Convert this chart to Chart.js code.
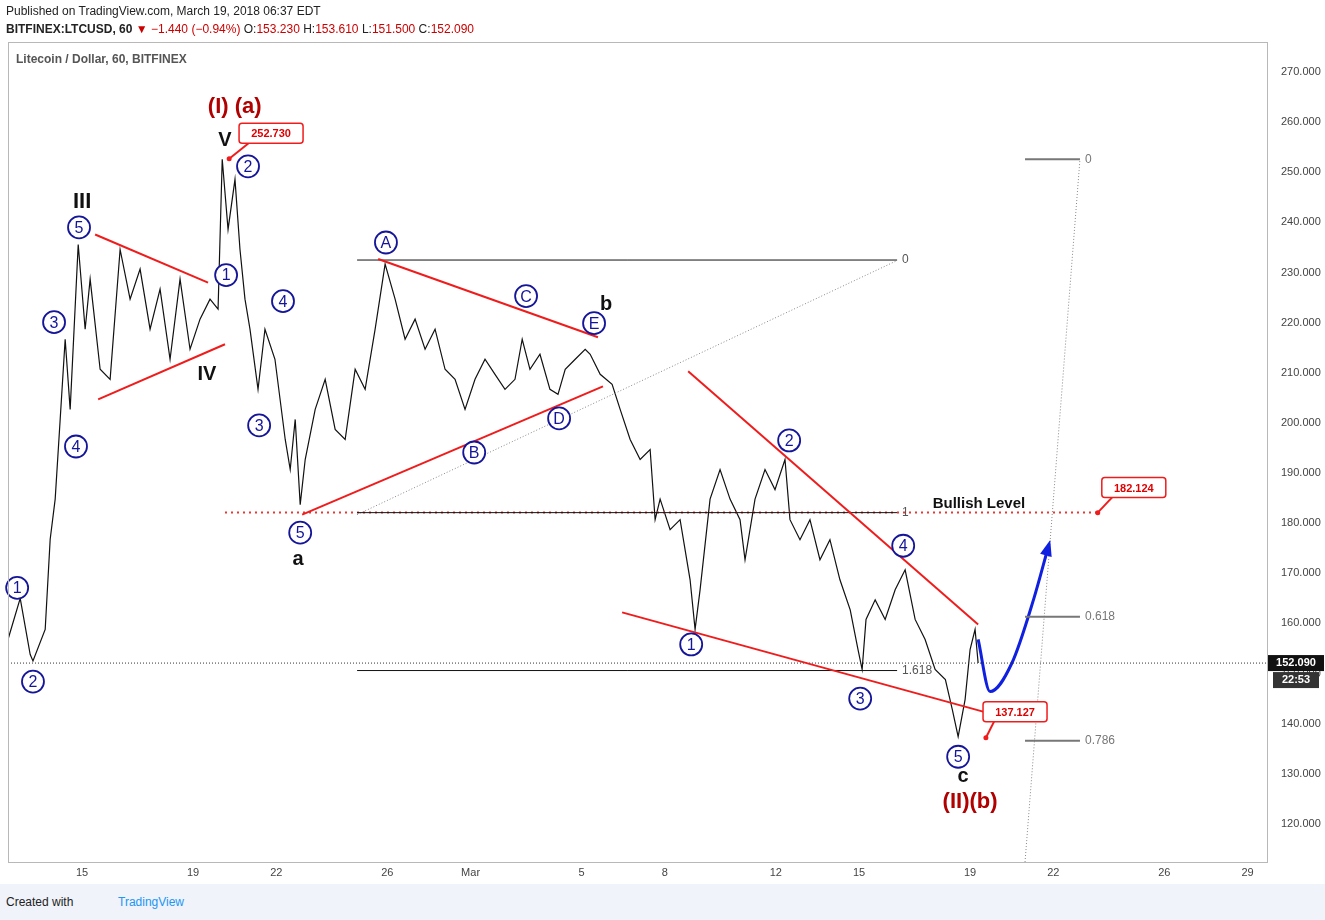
<!DOCTYPE html>
<html>
<head>
<meta charset="utf-8">
<script src="https://cdn.jsdelivr.net/npm/chart.js@4.4.1/dist/chart.umd.min.js"></script>
<style>
  body { margin: 0; background: #fff; font-family: Arial, "Liberation Sans", sans-serif; }
  #wrap { position: relative; width: 1325px; height: 920px; }
  #c { position: absolute; left: 0; top: 0; }
  .hdr { position: absolute; left: 6px; font-size: 12px; color: #222; }
  #foot { position: absolute; left: 0; top: 884px; width: 1325px; height: 36px; background: #f0f3fa; font-size: 12px; }
</style>
</head>
<body>
<div id="wrap">
  <canvas id="c" width="1325" height="920"></canvas>
  <div class="hdr" style="top:4px">Published on TradingView.com, March 19, 2018 06:37 EDT</div>
  <div class="hdr" style="top:22px"><b>BITFINEX:LTCUSD, 60</b> <span style="color:#c00">▼ −1.440 (−0.94%)</span> O:<span style="color:#c00">153.230</span> H:<span style="color:#c00">153.610</span> L:<span style="color:#c00">151.500</span> C:<span style="color:#c00">152.090</span></div>
  <div id="foot"><span style="position:absolute;left:6px;top:11px;color:#222">Created with</span><span style="position:absolute;left:118px;top:11px;color:#2196f3">TradingView</span></div>
</div>
<script>
// price path (day of Feb 2018 / price)
const days = [12.33,12.77,13.13,13.23,13.67,13.85,14.03,14.21,14.39,14.57,14.86,15.11,15.29,15.65,16.01,16.37,16.73,17.09,17.45,17.81,18.17,18.53,18.89,19.25,19.61,19.90,20.05,20.26,20.51,20.69,20.87,21.05,21.34,21.59,21.95,22.32,22.50,22.68,22.86,23.04,23.40,23.76,24.12,24.48,24.84,25.20,25.56,25.92,26.28,26.64,27.00,27.36,27.72,28.08,28.44,28.80,29.16,29.52,29.88,30.24,30.60,30.86,31.14,31.50,31.86,32.15,32.41,32.77,33.13,33.31,33.67,34.10,34.39,34.75,35.11,35.47,35.65,35.83,36.19,36.55,36.91,37.09,37.27,37.63,37.99,38.35,38.71,38.89,39.25,39.61,39.97,40.33,40.51,40.87,41.23,41.59,41.95,42.31,42.68,42.96,43.11,43.25,43.58,43.94,44.30,44.66,45.02,45.38,45.74,46.11,46.36,46.57,46.82,47.00,47.18,47.29];
const prices = [156.8,165.0,153.8,152.5,158.8,176.8,184.8,200.7,216.7,202.7,235.6,218.7,228.7,210.7,208.7,234.6,224.7,230.7,218.7,226.7,212.7,228.7,214.7,220.7,224.7,222.7,252.6,238.6,248.6,234.6,224.7,218.7,206.7,218.7,212.7,196.7,190.7,200.7,183.7,192.7,202.7,208.7,198.7,196.7,210.7,206.7,218.7,231.7,224.7,216.7,220.7,214.7,218.7,210.7,208.7,202.7,208.7,212.7,209.7,206.7,208.7,216.7,210.7,213.7,206.7,205.7,210.7,212.7,214.7,213.7,209.7,207.7,202.7,196.7,192.7,194.7,180.7,184.8,178.7,180.7,168.7,158.8,166.7,184.8,190.7,184.8,180.7,172.7,184.8,190.7,186.7,192.7,180.7,176.7,180.7,172.7,176.7,168.7,162.7,154.8,150.8,160.8,164.7,160.8,166.7,170.7,160.8,156.8,150.8,148.8,142.8,137.4,144.8,154.8,158.8,152.09];

const projDays = [47.29,47.72,48.5,49.3,49.81];
const projPrices = [156.8,146.4,152.0,165.0,175.1];

const xTickVals = [15,19,22,26,29,33,36,40,43,47,50,54,57];
const xTickLabels = ['15','19','22','26','Mar','5','8','12','15','19','22','26','29'];
const yTicks = [120,130,140,150,160,170,180,190,200,210,220,230,240,250,260,270];

const lastPrice = 152.09;

// red trend lines [d1,p1,d2,p2]
const redLines = [
  [15.47,237.6,19.54,228.0],[15.58,204.7,20.15,215.7],
  [25.67,232.7,33.59,217.1],[22.93,181.7,33.77,207.3],
  [36.84,210.3,47.29,159.8],[34.46,162.2,47.47,142.4]
];
// wave counts [day, price, label]
const waveMarks = [
  [12.66,167.1,'1'],[13.23,148.4,'2'],[13.99,220.1,'3'],[14.78,195.3,'4'],[14.89,239.0,'5'],
  [20.19,229.5,'1'],[20.98,251.2,'2'],[21.38,199.5,'3'],[22.24,224.3,'4'],[22.86,178.1,'5'],
  [25.95,236.0,'A'],[29.13,194.1,'B'],[31.0,225.3,'C'],[32.19,200.9,'D'],[33.45,219.9,'E'],
  [36.95,155.8,'1'],[40.48,196.5,'2'],[43.04,145.0,'3'],[44.59,175.5,'4'],[46.57,133.4,'5']
];
// text labels [day, price, text, color, size]
const textMarks = [
  [15.0,244.0,'III','#111',22],[19.5,209.7,'IV','#111',20],[20.15,256.4,'V','#111',20],
  [20.5,263.0,'(I) (a)','#b00000',22],[22.78,172.7,'a','#111',20],[33.88,223.7,'b','#111',20],
  [46.75,129.4,'c','#111',20],[47.0,124.4,'(II)(b)','#b00000',22]
];
// red price callouts [day, price, text, pointDay, pointPrice]
const callouts = [
  [21.81,257.8,'252.730',20.3,252.7],[52.9,187.1,'182.124',51.6,182.1],[48.62,142.4,'137.127',47.57,137.2]
];
// fib lines [d1,d2,price,label]
const fibA = [[24.91,44.37,232.5,'0'],[24.91,44.37,182.1,'1'],[24.91,44.37,150.6,'1.618']];
const fibB = [[48.98,50.96,252.6,'0'],[48.98,50.96,161.35,'0.618'],[48.98,50.96,136.6,'0.786']];

const overlay = {
  id: 'overlay',
  afterDatasetsDraw(chart) {
    const ctx = chart.ctx, x = chart.scales.x, y = chart.scales.y, a = chart.chartArea;
    const X = d => x.getPixelForValue(d), Y = p => y.getPixelForValue(p);
    ctx.save();
    ctx.strokeStyle = '#333'; ctx.lineWidth = 1; ctx.setLineDash([1,2]);
    ctx.beginPath(); ctx.moveTo(a.left, Y(lastPrice)); ctx.lineTo(a.right, Y(lastPrice)); ctx.stroke();
    ctx.strokeStyle = '#e53935'; ctx.lineWidth = 2; ctx.setLineDash([2,4]);
    ctx.beginPath(); ctx.moveTo(X(20.15), Y(182.124)); ctx.lineTo(X(51.58), Y(182.124)); ctx.stroke();
    ctx.strokeStyle = '#888'; ctx.lineWidth = 1; ctx.setLineDash([1,2]);
    ctx.beginPath(); ctx.moveTo(X(24.91), Y(181.7)); ctx.lineTo(X(44.37), Y(232.4)); ctx.stroke();
    ctx.beginPath(); ctx.moveTo(X(48.98), Y(112.4)); ctx.lineTo(X(50.96), Y(252.6)); ctx.stroke();
    ctx.setLineDash([]);
    ctx.font = '12px Arial';
    fibA.forEach(f => {
      ctx.strokeStyle = '#111'; ctx.lineWidth = 1;
      ctx.beginPath(); ctx.moveTo(X(f[0]), Y(f[2])); ctx.lineTo(X(f[1]), Y(f[2])); ctx.stroke();
      ctx.fillStyle = '#555'; ctx.textAlign = 'left'; ctx.textBaseline = 'middle';
      ctx.fillText(f[3], X(f[1]) + 5, Y(f[2]));
    });
    fibB.forEach(f => {
      ctx.strokeStyle = '#777'; ctx.lineWidth = 2;
      ctx.beginPath(); ctx.moveTo(X(f[0]), Y(f[2])); ctx.lineTo(X(f[1]), Y(f[2])); ctx.stroke();
      ctx.fillStyle = '#777'; ctx.textAlign = 'left'; ctx.textBaseline = 'middle';
      ctx.fillText(f[3], X(f[1]) + 5, Y(f[2]));
    });
    ctx.strokeStyle = '#f01c1c'; ctx.lineWidth = 2;
    redLines.forEach(l => { ctx.beginPath(); ctx.moveTo(X(l[0]), Y(l[1])); ctx.lineTo(X(l[2]), Y(l[3])); ctx.stroke(); });
    const n = projDays.length;
    const x1 = X(projDays[n-2]), y1 = Y(projPrices[n-2]), x2 = X(projDays[n-1]), y2 = Y(projPrices[n-1]);
    const ang = Math.atan2(y2 - y1, x2 - x1);
    ctx.fillStyle = '#1020e0';
    ctx.beginPath(); ctx.moveTo(x2 + 8*Math.cos(ang), y2 + 8*Math.sin(ang));
    ctx.lineTo(x2 + 10*Math.cos(ang + 2.5), y2 + 10*Math.sin(ang + 2.5));
    ctx.lineTo(x2 + 10*Math.cos(ang - 2.5), y2 + 10*Math.sin(ang - 2.5));
    ctx.closePath(); ctx.fill();
    ctx.font = '16px Arial'; ctx.textAlign = 'center'; ctx.textBaseline = 'middle';
    waveMarks.forEach(m => {
      ctx.beginPath(); ctx.arc(X(m[0]), Y(m[1]), 11, 0, Math.PI*2);
      ctx.fillStyle = '#fff'; ctx.fill(); ctx.strokeStyle = '#15159a'; ctx.lineWidth = 1.8; ctx.stroke();
      ctx.fillStyle = '#15159a'; ctx.fillText(m[2], X(m[0]), Y(m[1]) + 1);
    });
    textMarks.forEach(t => {
      ctx.font = 'bold ' + t[4] + 'px Arial'; ctx.fillStyle = t[3];
      ctx.fillText(t[2], X(t[0]), Y(t[1]));
    });
    ctx.font = 'bold 15px Arial'; ctx.fillStyle = '#111';
    ctx.fillText('Bullish Level', X(47.32), Y(183.9));
    ctx.font = 'bold 11px Arial';
    callouts.forEach(c => {
      const cx = X(c[0]), cy = Y(c[1]);
      ctx.strokeStyle = '#f01c1c'; ctx.lineWidth = 2;
      ctx.beginPath(); ctx.moveTo(cx - 20, cy + 8); ctx.lineTo(X(c[3]), Y(c[4])); ctx.stroke();
      ctx.fillStyle = '#f01c1c'; ctx.beginPath(); ctx.arc(X(c[3]), Y(c[4]), 2.5, 0, Math.PI*2); ctx.fill();
      ctx.fillStyle = '#fff'; ctx.lineWidth = 1.5;
      ctx.beginPath(); ctx.roundRect(cx - 32, cy - 10, 64, 20, 3); ctx.fill(); ctx.stroke();
      ctx.fillStyle = '#e00000'; ctx.fillText(c[2], cx, cy + 1);
    });
    ctx.font = 'bold 12px Arial'; ctx.fillStyle = '#555'; ctx.textAlign = 'left';
    ctx.fillText('Litecoin / Dollar, 60, BITFINEX', a.left + 8, a.top + 18);
    ctx.strokeStyle = '#b8b8b8'; ctx.lineWidth = 1;
    ctx.strokeRect(a.left + 0.5, a.top + 0.5, a.right - a.left, a.bottom - a.top);
    ctx.restore();
  },
  afterDraw(chart) {
    const ctx = chart.ctx, y = chart.scales.y, a = chart.chartArea;
    const py = y.getPixelForValue(lastPrice);
    ctx.save();
    ctx.fillStyle = '#111'; ctx.fillRect(a.right + 1, py - 8, 56, 16);
    ctx.fillStyle = '#333'; ctx.fillRect(a.right + 6, py + 9, 46, 16);
    ctx.fillStyle = '#fff'; ctx.font = 'bold 11px Arial'; ctx.textAlign = 'center'; ctx.textBaseline = 'middle';
    ctx.fillText(lastPrice.toFixed(3), a.right + 29, py);
    ctx.fillText('22:53', a.right + 29, py + 17);
    ctx.restore();
  }
};

new Chart(document.getElementById('c'), {
  type: 'line',
  data: {
    datasets: [
      { data: days.map((d, i) => ({ x: d, y: prices[i] })), borderColor: '#111', borderWidth: 1.2, pointRadius: 0, tension: 0 },
      { data: projDays.map((d, i) => ({ x: d, y: projPrices[i] })), borderColor: '#1020e0', borderWidth: 3, pointRadius: 0, tension: 0.5, cubicInterpolationMode: 'monotone' }
    ]
  },
  options: {
    responsive: false, animation: false,
    layout: { padding: { left: 8, top: 42, right: 0, bottom: 36 } },
    plugins: { legend: { display: false }, tooltip: { enabled: false } },
    scales: {
      x: {
        type: 'linear', min: 12.33, max: 57.7,
        grid: { display: false, drawTicks: false }, border: { display: false },
        afterBuildTicks: s => { s.ticks = xTickVals.map(v => ({ value: v })); },
        afterFit: s => { s.height = 22; },
        ticks: { color: '#444', font: { size: 11, family: 'Arial' }, maxRotation: 0, autoSkip: false, padding: 4,
          callback: v => xTickLabels[xTickVals.indexOf(v)] }
      },
      y: {
        position: 'right', min: 112.4, max: 276,
        grid: { display: false }, border: { display: false },
        afterBuildTicks: s => { s.ticks = yTicks.map(v => ({ value: v })); },
        afterFit: s => { s.width = 58; },
        ticks: { color: '#444', font: { size: 11, family: 'Arial' }, padding: 6, crossAlign: 'near', callback: v => v.toFixed(3) }
      }
    }
  },
  plugins: [overlay]
});
</script>
</body>
</html>
